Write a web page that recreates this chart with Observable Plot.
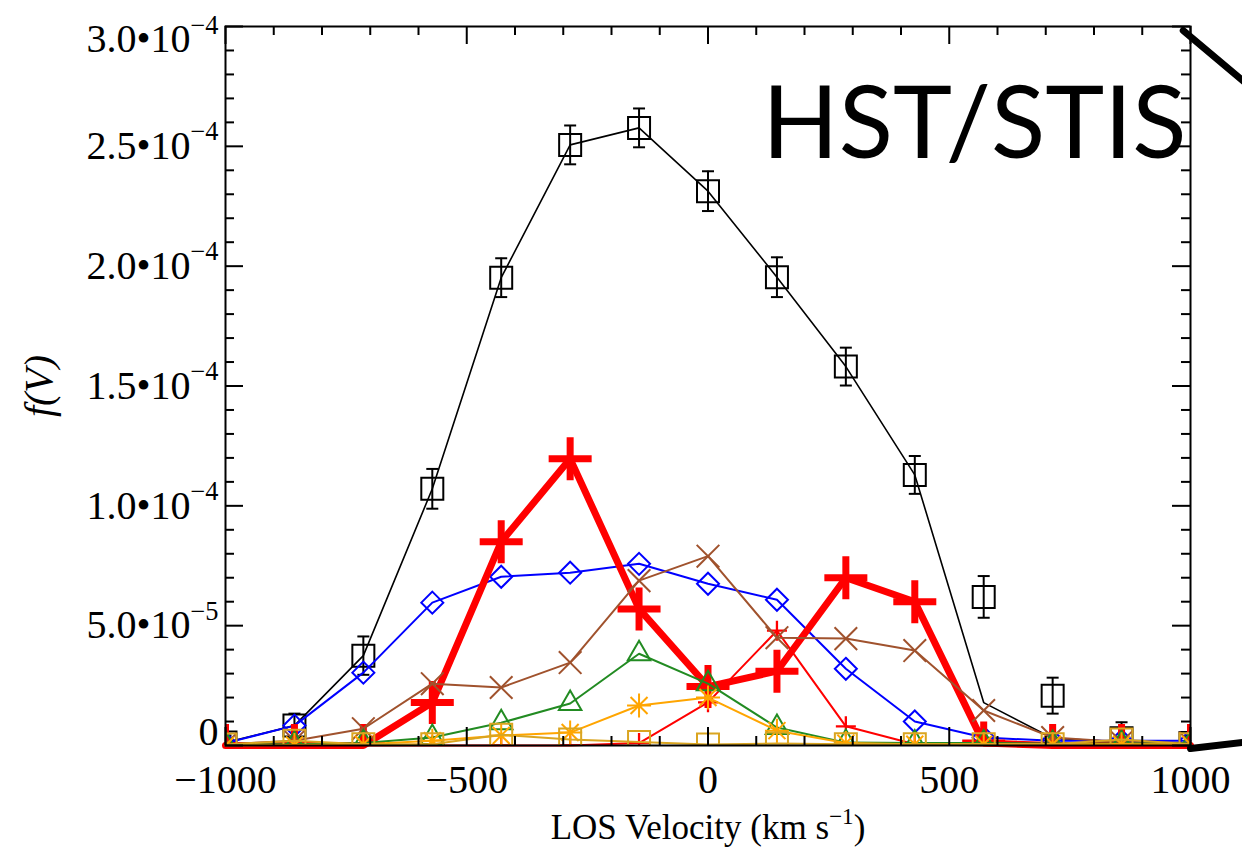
<!DOCTYPE html>
<html><head><meta charset="utf-8">
<script src="https://cdn.jsdelivr.net/npm/d3@7"></script>
<script src="https://cdn.jsdelivr.net/npm/@observablehq/plot@0.6"></script>
<style>body{margin:0;background:#fff;} svg{display:block}</style>
</head><body><div id="chart"></div>
<script>
// ---- data (f(V) values) ----
const velocity = [-1000, -857.1, -714.3, -571.4, -428.6, -285.7, -142.9, 0, 142.9, 285.7, 428.6, 571.4, 714.3, 857.1, 1000];
const totalPoints = [0.12e-5, 0.83e-5, 3.75e-5, 10.71e-5, 19.52e-5, 25.06e-5, 25.77e-5, 23.13e-5, 19.54e-5, 15.81e-5, 11.29e-5, 6.2e-5, 2.08e-5, 0.3e-5, 0.1e-5];
const totalErr    = [0.3e-5, 0.5e-5, 0.8e-5, 0.83e-5, 0.81e-5, 0.81e-5, 0.81e-5, 0.83e-5, 0.83e-5, 0.79e-5, 0.79e-5, 0.87e-5, 0.75e-5, 0.67e-5, 0.3e-5];
const totalLine   = [0.12e-5, 0.83e-5, 3.75e-5, 10.71e-5, 19.52e-5, 25.06e-5, 25.77e-5, 23.13e-5, 19.54e-5, 15.81e-5, 11.29e-5, 1.79e-5, 0.3e-5, 0.15e-5, 0.1e-5];
const blueDiamonds = [0.1e-5, 0.83e-5, 3.04e-5, 5.96e-5, 7.04e-5, 7.21e-5, 7.58e-5, 6.75e-5, 6.08e-5, 3.2e-5, 1.0e-5, 0.33e-5, 0.2e-5, 0.2e-5, 0.2e-5];
const redThick = [0, 0, 0, 1.79e-5, 8.5e-5, 11.96e-5, 5.7e-5, 2.46e-5, 3.1e-5, 7.0e-5, 6.0e-5, 0.1e-5, 0, 0, 0];
const redThin  = [0, 0, 0, 0, 0, 0, 0.1e-5, 1.8e-5, 4.79e-5, 0.8e-5, 0.05e-5, 0, 0, 0, 0];
const brownX   = [0.05e-5, 0.2e-5, 0.7e-5, 2.58e-5, 2.42e-5, 3.46e-5, 6.88e-5, 7.9e-5, 4.5e-5, 4.46e-5, 3.96e-5, 1.46e-5, 0.33e-5, 0.15e-5, 0.1e-5];
const greenTri = [0.05e-5, 0.05e-5, 0.1e-5, 0.33e-5, 0.95e-5, 1.75e-5, 3.83e-5, 2.58e-5, 0.75e-5, 0.12e-5, 0.1e-5, 0.1e-5, 0.08e-5, 0.08e-5, 0.08e-5];
const orangeAst = [0, 0.02e-5, 0.05e-5, 0.2e-5, 0.42e-5, 0.54e-5, 1.67e-5, 2.0e-5, 0.62e-5, 0.1e-5, 0.05e-5, 0.05e-5, 0.05e-5, 0.05e-5, 0.05e-5];
const goldSq   = [0.04e-5, 0.2e-5, 0.05e-5, 0.05e-5, 0.45e-5, 0.25e-5, 0.15e-5, 0.04e-5, 0.08e-5, 0.05e-5, 0.05e-5, 0.05e-5, 0.05e-5, 0.25e-5, 0.05e-5];

// axis ticks & labels
const xMajor = [-1000, -500, 0, 500, 1000];
const xMinor = [-900, -800, -700, -600, -400, -300, -200, -100, 100, 200, 300, 400, 600, 700, 800, 900];
const yMajor = [0, 5e-5, 1e-4, 1.5e-4, 2e-4, 2.5e-4, 3e-4];
const yMinor = d3.range(0, 30).map(k => k * 1e-5).filter((v, k) => k % 5 !== 0);
const xLabel = "LOS Velocity (km s^{−1})";
const yLabel = "f(V)";
const panelTitle = "HST/STIS";
// callout strokes leaving the panel (in data units)
const calloutTopX = [985, 1145], calloutTopY = [2.983e-4, 2.712e-4];
const calloutBotX = [1000, 1145], calloutBotY = [-0.125e-5, 0.21e-5];

// ---- symbols (stroked, r = half size) ----
const sym = fn => ({draw(c, size) { fn(c, Math.sqrt(size / Math.PI)); }});
const symSquare = sym((c, r) => { c.moveTo(-r, -r); c.lineTo(r, -r); c.lineTo(r, r); c.lineTo(-r, r); c.closePath(); });
const symDiamond = sym((c, r) => { c.moveTo(0, -r); c.lineTo(r, 0); c.lineTo(0, r); c.lineTo(-r, 0); c.closePath(); });
const symTri = sym((c, r) => { c.moveTo(0, -r); c.lineTo(r * 0.866, r / 2); c.lineTo(-r * 0.866, r / 2); c.closePath(); });
const symPlus = sym((c, r) => { c.moveTo(-r, 0); c.lineTo(r, 0); c.moveTo(0, -r); c.lineTo(0, r); });
const symTimes = sym((c, r) => { const d = r * 0.7071; c.moveTo(-d, -d); c.lineTo(d, d); c.moveTo(-d, d); c.lineTo(d, -d); });
const symAst = sym((c, r) => { const d = r * 0.7071; c.moveTo(-r, 0); c.lineTo(r, 0); c.moveTo(0, -r); c.lineTo(0, r); c.moveTo(-d, -d); c.lineTo(d, d); c.moveTo(-d, d); c.lineTo(d, -d); });
const symCap = sym((c, r) => { c.moveTo(-r, 0); c.lineTo(r, 0); });

function series(values, color, lw, symbol, r, sw) {
  return [
    Plot.line(velocity, {x: d => d, y: (d, i) => values[i], stroke: color, strokeWidth: lw, strokeLinejoin: "miter"}),
    Plot.dot(velocity, {x: d => d, y: (d, i) => values[i], symbol, r, stroke: color, strokeWidth: sw, fill: "none", clip: true})
  ];
}

const W = 1242, H = 851, mL = 225, mR = 52, mT = 26, mB = 106;
const frameW = W - mL - mR, frameH = H - mT - mB;
const yFmt = v => {
  if (v === 0) return "0";
  const e = Math.floor(Math.log10(v) + 1e-9);
  return (v / Math.pow(10, e)).toFixed(1) + "•10^{−" + (-e) + "}";
};
const xFmt = v => (v < 0 ? "−" : "") + Math.abs(v);
const TF = 40;

const chart = Plot.plot({
  width: W, height: H,
  marginLeft: mL, marginRight: mR, marginTop: mT, marginBottom: mB,
  x: {domain: [-1000, 1000]},
  y: {domain: [0, 3e-4]},
  style: {fontFamily: "Liberation Serif", fontSize: "38px", color: "black", background: "white"},
  marks: [
    // black total with error bars
    Plot.line(velocity, {x: d => d, y: (d, i) => totalLine[i], stroke: "black", strokeWidth: 1.6}),
    Plot.ruleX(velocity, {x: d => d, y1: (d, i) => totalPoints[i] - totalErr[i], y2: (d, i) => totalPoints[i] + totalErr[i], stroke: "black", strokeWidth: 2, clip: true}),
    Plot.dot(velocity, {x: d => d, y: (d, i) => totalPoints[i] - totalErr[i], symbol: symCap, r: 6, stroke: "black", strokeWidth: 2, clip: true}),
    Plot.dot(velocity, {x: d => d, y: (d, i) => totalPoints[i] + totalErr[i], symbol: symCap, r: 6, stroke: "black", strokeWidth: 2, clip: true}),
    Plot.dot(velocity, {x: d => d, y: (d, i) => totalPoints[i], symbol: symSquare, r: 11, stroke: "black", strokeWidth: 2, fill: "none", clip: true}),
    ...series(blueDiamonds, "#0000ff", 2, symDiamond, 11, 2),
    ...series(redThick, "#ff0000", 7, symPlus, 21.5, 7),
    ...series(redThin, "#ff0000", 2, symPlus, 10, 2.3),
    ...series(brownX, "#a0522d", 2, symTimes, 16, 2),
    ...series(greenTri, "#228b22", 2, symTri, 13, 2),
    ...series(orangeAst, "#ffa500", 2, symAst, 12, 2),
    ...series(goldSq, "#daa520", 2, symSquare, 11, 2),
    // frame and inward ticks
    Plot.frame({stroke: "black", strokeWidth: 2}),
    Plot.tickX(xMajor, {x: d => d, insetTop: frameH - 18, stroke: "black", strokeWidth: 2}),
    Plot.tickX(xMajor, {x: d => d, insetBottom: frameH - 18, stroke: "black", strokeWidth: 2}),
    Plot.tickX(xMinor, {x: d => d, insetTop: frameH - 9, stroke: "black", strokeWidth: 2}),
    Plot.tickX(xMinor, {x: d => d, insetBottom: frameH - 9, stroke: "black", strokeWidth: 2}),
    Plot.tickY(yMajor, {y: d => d, insetRight: frameW - 18, stroke: "black", strokeWidth: 2}),
    Plot.tickY(yMajor, {y: d => d, insetLeft: frameW - 18, stroke: "black", strokeWidth: 2}),
    Plot.tickY(yMinor, {y: d => d, insetRight: frameW - 9, stroke: "black", strokeWidth: 2}),
    Plot.tickY(yMinor, {y: d => d, insetLeft: frameW - 9, stroke: "black", strokeWidth: 2}),
    // tick labels
    Plot.axisX(xMajor, {tickSize: 0, tickPadding: 19, fontSize: TF, tickFormat: xFmt, label: null}),
    Plot.axisY(yMajor.slice(1, 6), {tickSize: 0, tickPadding: 7, fontSize: TF, tickFormat: yFmt, label: null}),
    Plot.axisY([yMajor[0]], {tickSize: 0, tickPadding: 7, fontSize: TF, tickFormat: yFmt, label: null, dy: -13}),
    Plot.axisY([yMajor[6]], {tickSize: 0, tickPadding: 7, fontSize: TF, tickFormat: yFmt, label: null, dy: 13}),
    // axis titles
    Plot.text([xLabel], {text: d => d, frameAnchor: "bottom", dy: 93, lineAnchor: "bottom", textAnchor: "middle", fontSize: 35, fill: "black", className: "xlabel"}),
    Plot.text([yLabel], {text: d => d, frameAnchor: "left", dx: -186, rotate: -90, textAnchor: "middle", fontSize: 40, fontStyle: "italic", fill: "black"}),
    // panel title & callout strokes
    Plot.text([panelTitle], {text: d => d, frameAnchor: "top-right", dx: -4, dy: 131, textAnchor: "end", lineAnchor: "bottom", fontFamily: "Lato", fontSize: 100, fill: "black"}),
    Plot.line(calloutTopX, {x: d => d, y: (d, i) => calloutTopY[i], stroke: "black", strokeWidth: 7}),
    Plot.line(calloutBotX, {x: d => d, y: (d, i) => calloutBotY[i], stroke: "black", strokeWidth: 7})
  ]
});

document.getElementById("chart").appendChild(chart);

// render "^{...}" as superscripts
chart.querySelectorAll("text").forEach(t => {
  const s = t.textContent;
  if (!s.includes("^{")) return;
  const fs = parseFloat(getComputedStyle(t).fontSize);
  const isLabel = !!t.closest(".xlabel");
  const supFs = fs * 0.66, raise = fs * (isLabel ? 0.42 : 0.47);
  const parts = s.split(/\^\{([^}]*)\}/);
  t.textContent = "";
  const ns = "http://www.w3.org/2000/svg";
  let lifted = false;
  parts.forEach((p, k) => {
    if (p === "" && k % 2 === 0) return;
    const ts = document.createElementNS(ns, "tspan");
    ts.textContent = p;
    if (k % 2 === 1) {
      ts.setAttribute("font-size", supFs);
      ts.setAttribute("dy", -raise);
      lifted = true;
    } else if (lifted) {
      ts.setAttribute("dy", raise);
      lifted = false;
    }
    t.appendChild(ts);
  });
});
</script></body></html>
